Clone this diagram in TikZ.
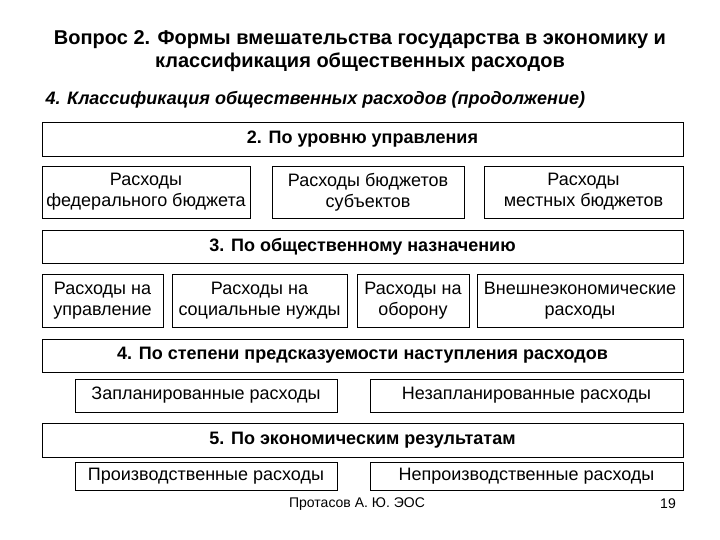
\documentclass[tikz,border=0pt]{standalone}
\usepackage{fontspec}
\setmainfont{Liberation Sans}
\begin{document}
\begin{tikzpicture}[x=1pt,y=-1pt,
  bx/.style={draw=black,line width=0.8pt,inner sep=0pt,align=center,font=\fontsize{18}{21}\selectfont},
  hd/.style={bx,font=\fontsize{18}{21}\selectfont\bfseries}]
\useasboundingbox (0,0) rectangle (720,540);
\node[font=\fontsize{20}{23}\selectfont\bfseries,align=center] (t) at (360,51) {Вопрос 2. Формы вмешательства государства в экономику и\\классификация общественных расходов};
\node[font=\fontsize{18}{21}\selectfont\bfseries\itshape,anchor=west] (st) at (42,100) {4. Классификация общественных расходов (продолжение)};
\node[hd,minimum width=641,minimum height=34] (h2) at (362.5,139) {2. По уровню управления};
\node[bx,minimum width=208,minimum height=52] (a1) at (146,192) {Расходы\\федерального бюджета};
\node[bx,minimum width=192,minimum height=52] (a2) at (368,192) {Расходы бюджетов\\субъектов};
\node[bx,minimum width=199,minimum height=52] (a3) at (583.5,192) {Расходы\\местных бюджетов};
\node[hd,minimum width=641,minimum height=33] (h3) at (362.5,246.5) {3. По общественному назначению};
\node[bx,minimum width=121,minimum height=53] (b1) at (102.5,300.5) {Расходы на\\управление};
\node[bx,minimum width=175,minimum height=53] (b2) at (259.5,300.5) {Расходы на\\социальные нужды};
\node[bx,minimum width=112,minimum height=53] (b3) at (413,300.5) {Расходы на\\оборону};
\node[bx,minimum width=206,minimum height=53] (b4) at (580,300.5) {Внешнеэкономические\\расходы};
\node[hd,minimum width=641,minimum height=33] (h4) at (362.5,355.5) {4. По степени предсказуемости наступления расходов};
\node[bx,minimum width=262,minimum height=33] (c1) at (206,395.5) {Запланированные расходы};
\node[bx,minimum width=313,minimum height=33] (c2) at (526.5,395.5) {Незапланированные расходы};
\node[hd,minimum width=641,minimum height=34] (h5) at (362.5,440) {5. По экономическим результатам};
\node[bx,minimum width=262,minimum height=28] (d1) at (206,476) {Производственные расходы};
\node[bx,minimum width=313,minimum height=28] (d2) at (526.5,476) {Непроизводственные расходы};
\node[font=\fontsize{14}{16}\selectfont] (f1) at (357,504) {Протасов А. Ю. ЭОС};
\node[font=\fontsize{14}{16}\selectfont] (f2) at (668,504) {19};
\end{tikzpicture}
\end{document}
